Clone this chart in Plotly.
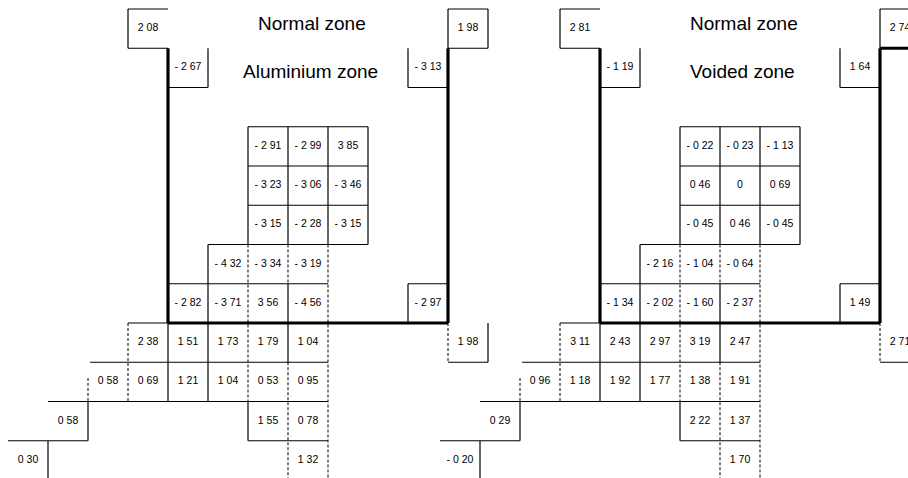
import plotly.graph_objects as go

# Cell layout shared by both core maps: (row, column) of every value cell
CELL_ROWS = [0, 0, 1, 1,
             3, 3, 3, 4, 4, 4, 5, 5, 5,
             6, 6, 6,
             7, 7, 7, 7, 7,
             8, 8, 8, 8, 8, 8,
             9, 9, 9, 9, 9, 9,
             10, 10, 10,
             11, 11]
CELL_COLS = [3, 11, 4, 10,
             6, 7, 8, 6, 7, 8, 6, 7, 8,
             5, 6, 7,
             4, 5, 6, 7, 10,
             3, 4, 5, 6, 7, 11,
             2, 3, 4, 5, 6, 7,
             1, 6, 7,
             0, 7]

# Reactivity changes, aluminium-zone map
ALUMINIUM_VALUES = [2.08, 1.98, -2.67, -3.13,
                    -2.91, -2.99, 3.85, -3.23, -3.06, -3.46, -3.15, -2.28, -3.15,
                    -4.32, -3.34, -3.19,
                    -2.82, -3.71, 3.56, -4.56, -2.97,
                    2.38, 1.51, 1.73, 1.79, 1.04, 1.98,
                    0.58, 0.69, 1.21, 1.04, 0.53, 0.95,
                    0.58, 1.55, 0.78,
                    0.30, 1.32]

# Reactivity changes, voided-zone map
VOIDED_VALUES = [2.81, 2.74, -1.19, 1.64,
                 -0.22, -0.23, -1.13, 0.46, 0.0, 0.69, -0.45, 0.46, -0.45,
                 -2.16, -1.04, -0.64,
                 -1.34, -2.02, -1.60, -2.37, 1.49,
                 3.11, 2.43, 2.97, 3.19, 2.47, 2.71,
                 0.96, 1.18, 1.92, 1.77, 1.38, 1.91,
                 0.29, 2.22, 1.37,
                 -0.20, 1.70]

PANEL_TITLES = [("Normal zone", "Aluminium zone"), ("Normal zone", "Voided zone")]
PANEL_SHIFT = [0.0, 10.8]

INK = "#000000"
THIN = dict(color=INK, width=1.2)
THICK = dict(color=INK, width=3.2)
DASH = dict(color=INK, width=1.0, dash="3px,2px")

# Grid segments of one map: (x0, y0, x1, y1, style)
SEGMENTS = [
    # corner boxes in the normal zone
    (3, 0, 4, 0, "thin"), (3, 0, 3, 1, "thin"), (3, 1, 4, 1, "thin"),
    (11, 0, 12, 0, "thin"), (12, 0, 12, 1, "thin"), (11, 0, 11, 1, "thin"), (11, 1, 12, 1, "thin"),
    # zone boundary
    (4, 1, 4, 8, "thick"), (11, 1, 11, 8, "thick"), (4, 8, 11, 8, "thick"),
    # corner boxes inside the zone
    (5, 1, 5, 2, "thin"), (4, 2, 5, 2, "thin"),
    (10, 1, 10, 2, "thin"), (10, 2, 11, 2, "thin"),
    # central block
    (6, 3, 9, 3, "thin"), (6, 4, 9, 4, "thin"), (6, 5, 9, 5, "thin"), (5, 6, 9, 6, "thin"),
    (6, 3, 6, 6, "thin"), (7, 3, 7, 6, "thin"), (8, 3, 8, 6, "thin"), (9, 3, 9, 6, "thin"),
    # staircase rows
    (4, 7, 8, 7, "thin"), (5, 6, 5, 10, "thin"),
    (6, 6, 6, 10, "dash"), (7, 6, 7, 7, "dash"), (7, 7, 7, 9, "thin"), (7, 9, 7, 12, "dash"),
    (8, 6, 8, 12, "dash"),
    (10, 7, 11, 7, "thin"), (10, 7, 10, 8, "thin"),
    (3, 8, 4, 8, "thin"), (4, 8, 4, 10, "thin"), (3, 8, 3, 10, "dash"),
    (2.05, 9, 8, 9, "thin"), (1, 10, 8, 10, "thin"),
    (0, 11, 2, 11, "thin"), (6, 11, 8, 11, "thin"),
    (6, 10, 6, 11, "thin"), (2, 10, 2, 11, "thin"), (2, 9.4, 2, 10, "dash"),
    (1, 11, 1, 12, "thin"),
    # box below the zone corner
    (11, 8, 11, 9, "dash"), (12, 8, 12, 9, "thin"), (11, 9, 12, 9, "thin"),
]
STYLE = {"thin": THIN, "thick": THICK, "dash": DASH}


def fmt(v):
    if v == 0:
        return "0"
    s = f"{abs(v):.2f}".replace(".", " ")
    return ("- " + s) if v < 0 else s


fig = go.Figure()
shapes = []
annotations = []

for p, values in enumerate([ALUMINIUM_VALUES, VOIDED_VALUES]):
    dx = PANEL_SHIFT[p]
    fig.add_trace(go.Scatter(
        x=[c + 0.5 + dx for c in CELL_COLS],
        y=[r + 0.5 for r in CELL_ROWS],
        text=[fmt(v) for v in values],
        mode="text",
        textposition="middle center",
        textfont=dict(family="Arial", size=10.5, color=INK),
        cliponaxis=False,
        hoverinfo="skip",
        showlegend=False,
    ))
    for (x0, y0, x1, y1, st) in SEGMENTS:
        shapes.append(dict(type="line", xref="x", yref="y",
                           x0=x0 + dx, y0=y0, x1=x1 + dx, y1=y1,
                           line=STYLE[st]))
    if p == 1:
        # boundary continues under the right-hand corner box
        shapes.append(dict(type="line", xref="x", yref="y",
                           x0=11 + dx, y0=1, x1=12 + dx, y1=1, line=THICK))
    top, zone = PANEL_TITLES[p]
    annotations.append(dict(x=7.6 + dx, y=0.36, xref="x", yref="y", text=top,
                            showarrow=False, font=dict(family="Arial", size=19, color=INK)))
    annotations.append(dict(x=7.55 + dx, y=1.6, xref="x", yref="y", text=zone,
                            showarrow=False, font=dict(family="Arial", size=19, color=INK)))

fig.update_layout(
    width=908, height=478,
    margin=dict(l=0, r=0, t=0, b=0),
    paper_bgcolor="white", plot_bgcolor="white",
    shapes=shapes, annotations=annotations,
    xaxis=dict(range=[-0.2, 22.5], visible=False, fixedrange=True),
    yaxis=dict(range=[11.949, -0.229], visible=False, fixedrange=True),
    showlegend=False,
)

fig.write_html("out.html")
